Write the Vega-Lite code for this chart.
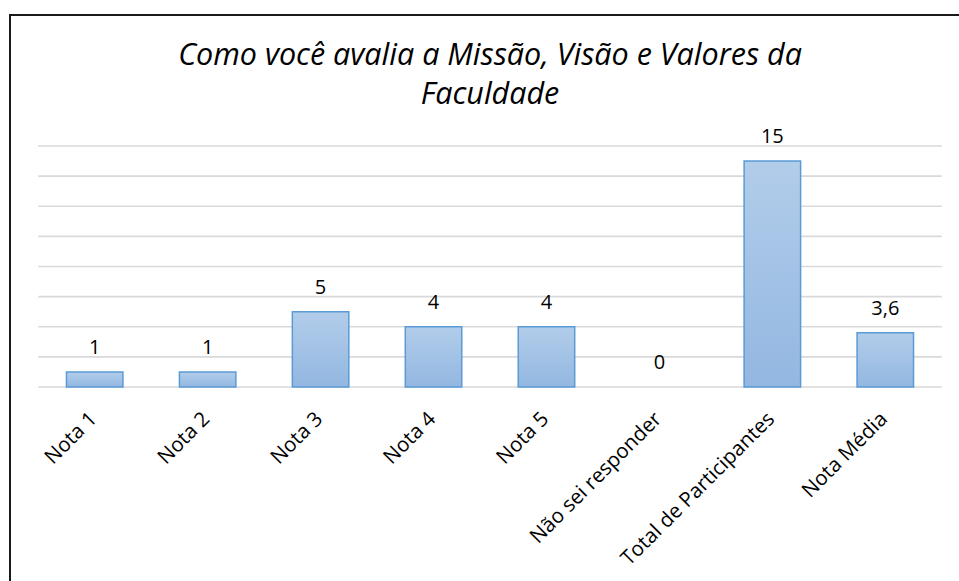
{
  "$schema": "https://vega.github.io/schema/vega-lite/v6.json",
  "width": 960,
  "height": 570,
  "autosize": {"type": "none"},
  "padding": {"left": 10, "top": 15, "right": -11, "bottom": -4},
  "background": "white",
  "config": {
    "view": {"stroke": "#1a1a1a", "strokeWidth": 2},
    "font": "Open Sans"
  },
  "title": {
    "text": ["Como você avalia a Missão, Visão e Valores da", "Faculdade"],
    "font": "Open Sans",
    "fontSize": 30.5,
    "fontStyle": "italic",
    "fontWeight": "normal",
    "color": "#000000",
    "anchor": "middle",
    "frame": "group",
    "lineHeight": 39,
    "baseline": "top",
    "offset": -95
  },
  "datasets": {
    "bars": [
      {"categoria": "Nota 1", "valor": 1, "rotulo": "1"},
      {"categoria": "Nota 2", "valor": 1, "rotulo": "1"},
      {"categoria": "Nota 3", "valor": 5, "rotulo": "5"},
      {"categoria": "Nota 4", "valor": 4, "rotulo": "4"},
      {"categoria": "Nota 5", "valor": 4, "rotulo": "4"},
      {"categoria": "Não sei responder", "valor": 0, "rotulo": "0"},
      {"categoria": "Total de Participantes", "valor": 15, "rotulo": "15"},
      {"categoria": "Nota Média", "valor": 3.6, "rotulo": "3,6"}
    ],
    "grade": [
      {"g": 0}, {"g": 2}, {"g": 4}, {"g": 6}, {"g": 8},
      {"g": 10}, {"g": 12}, {"g": 14}, {"g": 16}
    ]
  },
  "layer": [
    {
      "data": {"name": "grade"},
      "mark": {"type": "rule", "color": "#d9d9d9", "strokeWidth": 1.7},
      "encoding": {
        "y": {
          "field": "g",
          "type": "quantitative",
          "axis": null,
          "scale": {"domain": [-13.145, 24.697], "nice": false, "zero": false}
        },
        "x": {
          "datum": "Nota 1",
          "type": "nominal",
          "bandPosition": -0.5,
          "axis": null,
          "scale": {
            "domain": ["Nota 1", "Nota 2", "Nota 3", "Nota 4", "Nota 5", "Não sei responder", "Total de Participantes", "Nota Média"],
            "paddingInner": 0.5,
            "paddingOuter": 0.5
          }
        },
        "x2": {"datum": "Nota Média", "bandPosition": 1.5}
      }
    },
    {
      "data": {"name": "bars"},
      "transform": [{"filter": "datum.valor > 0"}],
      "mark": {
        "type": "bar",
        "stroke": "#5b9bd5",
        "strokeWidth": 1.5,
        "color": {
          "gradient": "linear",
          "x1": 0, "y1": 0, "x2": 0, "y2": 1,
          "stops": [
            {"offset": 0, "color": "#b2cdea"},
            {"offset": 1, "color": "#93b7e1"}
          ]
        }
      },
      "encoding": {
        "x": {
          "field": "categoria",
          "type": "nominal",
          "axis": null,
          "scale": {
            "domain": ["Nota 1", "Nota 2", "Nota 3", "Nota 4", "Nota 5", "Não sei responder", "Total de Participantes", "Nota Média"],
            "paddingInner": 0.5,
            "paddingOuter": 0.5
          }
        },
        "y": {"field": "valor", "type": "quantitative", "axis": null}
      }
    },
    {
      "data": {"name": "bars"},
      "mark": {"type": "text", "font": "Open Sans", "fontSize": 20, "color": "#000000", "baseline": "alphabetic", "dy": -18},
      "encoding": {
        "x": {"field": "categoria", "type": "nominal"},
        "y": {"field": "valor", "type": "quantitative"},
        "text": {"field": "rotulo"}
      }
    },
    {
      "data": {"name": "bars"},
      "mark": {"type": "text", "font": "Open Sans", "fontSize": 20.5, "color": "#000000", "angle": -45, "align": "right", "baseline": "middle", "yOffset": 29, "xOffset": -1},
      "encoding": {
        "x": {"field": "categoria", "type": "nominal"},
        "y": {"datum": 0, "type": "quantitative"},
        "text": {"field": "categoria"}
      }
    }
  ]
}
